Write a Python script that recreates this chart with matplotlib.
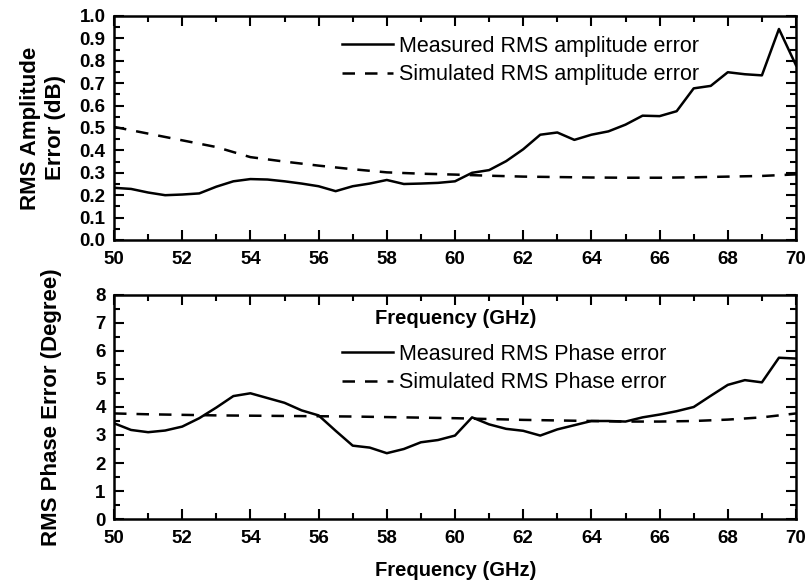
import matplotlib
matplotlib.use("Agg")
import matplotlib.pyplot as plt
from matplotlib.ticker import MultipleLocator

plt.rcParams['font.family'] = ['Liberation Sans', 'DejaVu Sans']

freq = [50 + 0.5 * i for i in range(41)]
meas_amp = [0.233, 0.228, 0.212, 0.200, 0.203, 0.208, 0.238, 0.262, 0.272, 0.270,
            0.262, 0.252, 0.240, 0.218, 0.240, 0.252, 0.268, 0.250, 0.252, 0.255,
            0.262, 0.300, 0.312, 0.352, 0.405, 0.470, 0.480, 0.447, 0.470, 0.485,
            0.515, 0.555, 0.553, 0.575, 0.677, 0.688, 0.749, 0.740, 0.735, 0.942, 0.780]
freq_sim = list(range(50, 71))
sim_amp = [0.505, 0.475, 0.445, 0.415, 0.370, 0.350, 0.332, 0.316, 0.302, 0.296,
           0.292, 0.287, 0.283, 0.281, 0.279, 0.278, 0.278, 0.280, 0.283, 0.286, 0.293]

meas_phase = [3.42, 3.18, 3.10, 3.16, 3.30, 3.60, 3.98, 4.39, 4.49, 4.32,
              4.15, 3.88, 3.70, 3.15, 2.62, 2.55, 2.35, 2.50, 2.74, 2.82,
              2.98, 3.63, 3.38, 3.22, 3.15, 2.98, 3.20, 3.35, 3.50, 3.50,
              3.48, 3.63, 3.73, 3.85, 4.00, 4.40, 4.79, 4.96, 4.88, 5.76, 5.73]
sim_phase = [3.77, 3.74, 3.72, 3.70, 3.69, 3.68, 3.67, 3.66, 3.64, 3.62,
             3.60, 3.57, 3.54, 3.52, 3.50, 3.48, 3.48, 3.50, 3.55, 3.63, 3.77]

xticks = [50, 52, 54, 56, 58, 60, 62, 64, 66, 68, 70]

fig = plt.figure(figsize=(8.06, 5.85), dpi=100)
ax1 = fig.add_axes([114/806, 1-240/585, 682/806, 224/585])
ax2 = fig.add_axes([114/806, 1-519/585, 682/806, 224/585])

def style(ax):
    for s in ax.spines.values():
        s.set_linewidth(1.8)
    ax.set_xlim(50, 70)
    ax.set_xticks(xticks)
    ax.xaxis.set_minor_locator(MultipleLocator(1))
    ax.tick_params(which='both', direction='in', top=True, right=True, width=1.5)
    ax.tick_params(which='major', length=7)
    ax.tick_params(which='minor', length=4)
    ax.tick_params(axis='x', labelsize=13.5, pad=8)
    ax.tick_params(axis='y', labelsize=13.5, pad=6)
    for lab in ax.get_xticklabels() + ax.get_yticklabels():
        lab.set_fontweight('bold')

leg_kw = dict(loc='upper left', frameon=False, fontsize=15.5, handlelength=2.35,
              handletextpad=0.3, labelspacing=0.33, borderpad=0, borderaxespad=0)

ax1.plot(freq, meas_amp, color='black', lw=1.8, label='Measured RMS amplitude error')
ax1.plot(freq_sim, sim_amp, color='black', lw=1.8, ls=(0, (5, 4)), label='Simulated RMS amplitude error')
ax1.set_ylim(0, 1.0)
ax1.set_yticks([i / 10 for i in range(11)])
ax1.set_yticklabels([f"{i/10:.1f}" for i in range(11)])
ax1.yaxis.set_minor_locator(MultipleLocator(0.05))
style(ax1)
ax1.set_ylabel('RMS Amplitude\nError (dB)', fontsize=16, fontweight='bold', labelpad=10,
               linespacing=1.2)
ax1.legend(bbox_to_anchor=((342-114)/682, (240-36)/224), **leg_kw)

ax2.plot(freq, meas_phase, color='black', lw=1.8, label='Measured RMS Phase error')
ax2.plot(freq_sim, sim_phase, color='black', lw=1.8, ls=(0, (5, 4)), label='Simulated RMS Phase error')
ax2.set_ylim(0, 8)
ax2.set_yticks(range(9))
ax2.yaxis.set_minor_locator(MultipleLocator(0.5))
style(ax2)
ax2.set_ylabel('RMS Phase Error (Degree)', fontsize=16, fontweight='bold', labelpad=24)
ax2.legend(bbox_to_anchor=((342-114)/682, (519-344)/224), **leg_kw)

fig.text(456/806, 1-318/585, 'Frequency (GHz)', fontsize=14.5, fontweight='bold',
         ha='center', va='center')
fig.text(456/806, 1-571/585, 'Frequency (GHz)', fontsize=14.5, fontweight='bold',
         ha='center', va='center')

fig.savefig('out.png', dpi=100)
